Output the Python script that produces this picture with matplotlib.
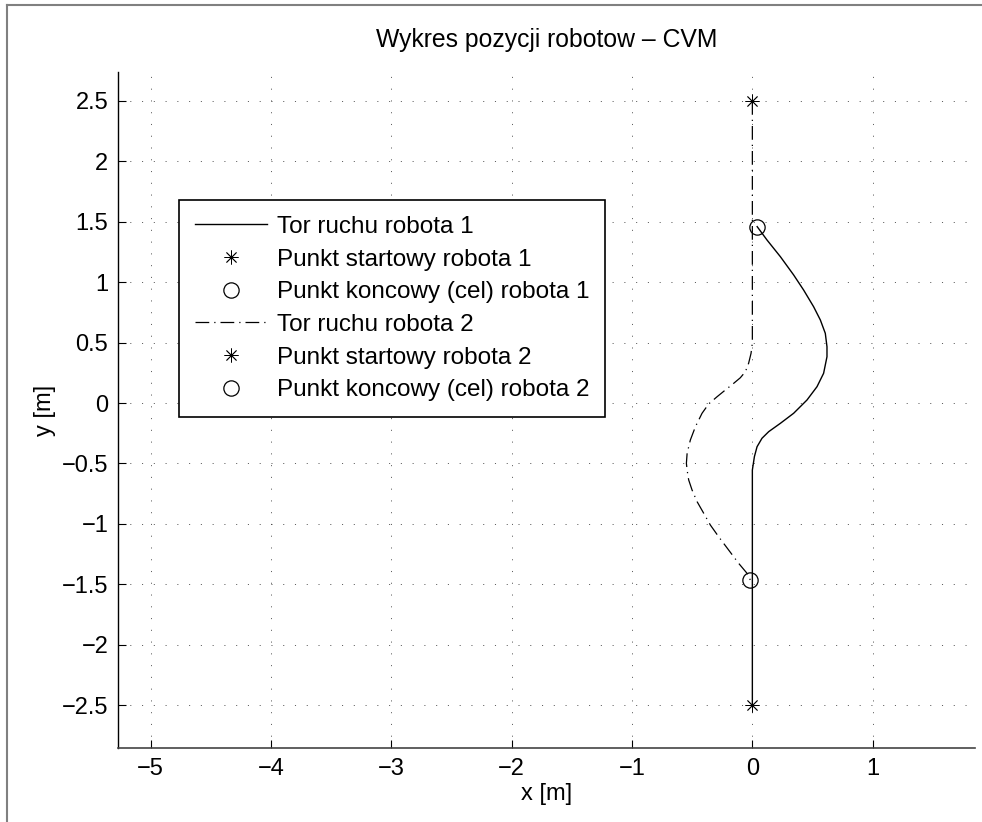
import numpy as np
import matplotlib
matplotlib.use("Agg")
import matplotlib.pyplot as plt
from matplotlib.lines import Line2D

plt.rcParams['font.family'] = ['Liberation Sans', 'DejaVu Sans']

# robot 1 trajectory (start at bottom, goal near the top)
x1 = [0.0, 0.0, 0.0, 0.017, 0.039, 0.08, 0.136, 0.233, 0.343, 0.454,
      0.537, 0.592, 0.620, 0.620, 0.606, 0.565, 0.509, 0.426, 0.343,
      0.233, 0.122, 0.04]
y1 = [-2.5, -1.5, -0.555, -0.444, -0.362, -0.292, -0.237, -0.168, -0.085, 0.025,
      0.135, 0.246, 0.383, 0.466, 0.577, 0.687, 0.797, 0.935, 1.06,
      1.211, 1.349, 1.46]

# robot 2 trajectory (start at top, goal near the bottom)
x2 = [0.0, 0.0, 0.0, -0.011, -0.031, -0.058, -0.1, -0.155, -0.224, -0.293,
      -0.363, -0.418, -0.473, -0.515, -0.542, -0.548, -0.542, -0.529, -0.501,
      -0.459, -0.404, -0.349, -0.280, -0.197, -0.114, -0.044, -0.017]
y2 = [2.5, 1.5, 0.497, 0.411, 0.329, 0.259, 0.209, 0.163, 0.108, 0.052,
      -0.008, -0.085, -0.196, -0.306, -0.416, -0.499, -0.555, -0.637, -0.720,
      -0.817, -0.913, -1.010, -1.107, -1.217, -1.327, -1.410, -1.465]

labels = ['Tor ruchu robota 1', 'Punkt startowy robota 1',
          'Punkt koncowy (cel) robota 1', 'Tor ruchu robota 2',
          'Punkt startowy robota 2', 'Punkt koncowy (cel) robota 2']

xticks = [-5, -4, -3, -2, -1, 0, 1]
yticks = [-2.5, -2, -1.5, -1, -0.5, 0, 0.5, 1, 1.5, 2, 2.5]

FS = 17
star = (8, 2, 0)

fig = plt.figure(figsize=(9.82, 8.22), dpi=100)
ax = fig.add_axes([0.1202, 0.0900, 0.8727, 0.8224])

ax.plot(x1, y1, color='k', lw=1.0, label=labels[0])
ax.plot(x1[0], y1[0], ls='none', marker=star, ms=10, mec='k', mew=0.6, label=labels[1])
ax.plot(x1[-1], y1[-1], ls='none', marker='o', ms=11, mfc='none', mec='k', mew=0.9, label=labels[2])
ax.plot(x2, y2, color='k', lw=0.9, dashes=(11, 4, 1, 4), label=labels[3])
ax.plot(x2[0], y2[0], ls='none', marker=star, ms=10, mec='k', mew=0.6, label=labels[4])
ax.plot(x2[-1], y2[-1], ls='none', marker='o', ms=11, mfc='none', mec='k', mew=0.9, label=labels[5])

ax.set_xlim(-5.27, 1.85)
ax.set_ylim(-2.856, 2.74)
ax.set_xticks(xticks)
ax.set_yticks(yticks)
ax.set_yticklabels([('%g' % v).replace('-', '\u2212') for v in yticks])

ax.grid(True, color='#333333', linestyle=(0, (1.4, 14)), linewidth=0.55)
ax.spines['top'].set_visible(False)
ax.spines['right'].set_visible(False)
ax.spines['left'].set_linewidth(1.0)
ax.spines['bottom'].set_linewidth(1.2)
ax.spines['bottom'].set_color('#444444')
ax.tick_params(direction='in', length=6, width=0.8, labelsize=FS, pad=7)

ax.set_title('Wykres pozycji robotow \u2013 CVM', fontsize=17.8, pad=18)
ax.set_xlabel('x [m]', fontsize=FS, labelpad=2)
ax.set_ylabel('y [m]', fontsize=FS, labelpad=4)

leg = ax.legend(loc='upper left', bbox_to_anchor=(0.1823, 0.7567),
                bbox_transform=fig.transFigure, borderaxespad=0,
                fontsize=17.5, fancybox=False, framealpha=1, edgecolor='k',
                handlelength=2.96, handletextpad=0.41, labelspacing=0.44,
                borderpad=0.65)
leg.get_frame().set_linewidth(1.2)

# window frame edges
fig.add_artist(Line2D([7 / 982, 7 / 982], [0, 1 - 5 / 822], transform=fig.transFigure,
                      color='#808080', lw=1.5))
fig.add_artist(Line2D([7 / 982, 1], [1 - 5 / 822, 1 - 5 / 822], transform=fig.transFigure,
                      color='#808080', lw=1.5))

fig.savefig('out.png', dpi=100)
